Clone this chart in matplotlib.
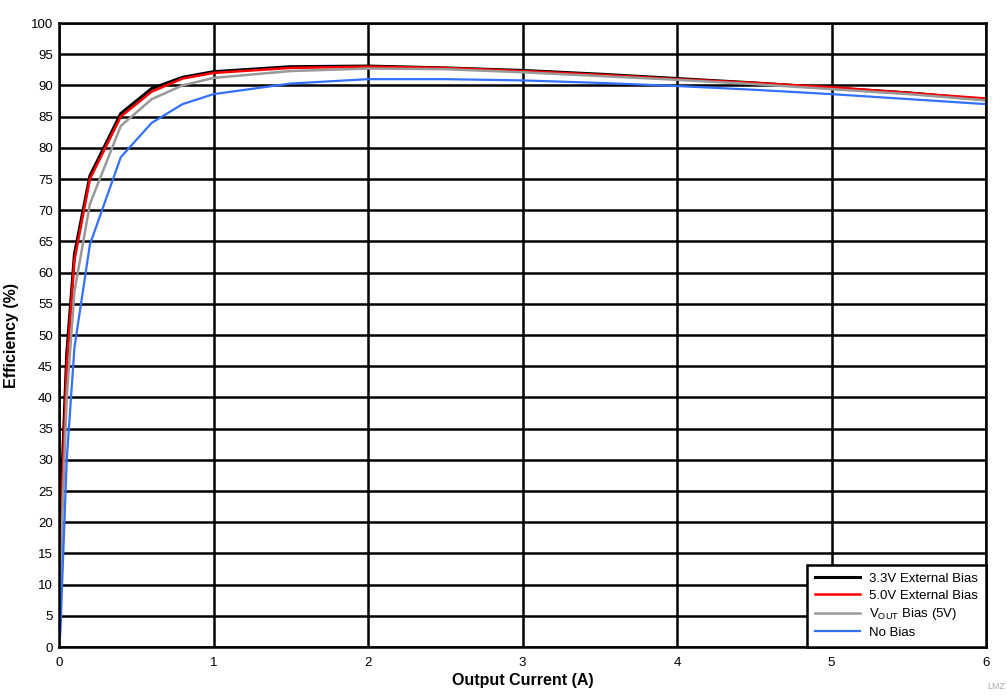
import numpy as np
import matplotlib.pyplot as plt

plt.rcParams['font.family'] = ['Liberation Sans', 'DejaVu Sans']

current = [0.005, 0.01, 0.02, 0.05, 0.1, 0.2, 0.4, 0.6, 0.8, 1.0, 1.5, 2.0, 2.5, 3.0, 3.5, 4.0, 4.5, 5.0, 5.5, 6.0]
eff_33v = [5, 12, 28, 47, 63, 75.5, 85.5, 89.5, 91.3, 92.2, 93.0, 93.1, 92.8, 92.4, 91.8, 91.1, 90.4, 89.6, 88.8, 87.7]
eff_50v = [4, 10, 25, 45, 62, 75.0, 85.0, 89.0, 91.1, 92.0, 92.8, 93.0, 92.8, 92.3, 91.7, 91.0, 90.4, 89.7, 88.8, 87.9]
eff_vout = [3, 8, 20, 40, 57, 71.0, 83.5, 87.8, 90.0, 91.2, 92.3, 92.7, 92.6, 92.1, 91.5, 90.9, 90.2, 89.4, 88.6, 87.6]
eff_nobias = [1, 3, 10, 30, 48, 64.5, 78.5, 84.0, 87.0, 88.6, 90.3, 91.0, 91.0, 90.8, 90.4, 89.9, 89.3, 88.6, 87.8, 87.0]

fig = plt.figure(figsize=(10.07, 6.99), dpi=100)
ax = fig.add_axes([59 / 1007, 1 - 647 / 699, (986 - 59) / 1007, (647 - 23) / 699])

ax.plot(current, eff_33v, color='black', lw=2.2, label='3.3V External Bias')
ax.plot(current, eff_50v, color='#ff0000', lw=1.8, label='5.0V External Bias')
ax.plot(current, eff_vout, color='#999999', lw=1.8, label='V$_\\mathregular{OUT}$ Bias (5V)')
ax.plot(current, eff_nobias, color='#3370ff', lw=1.6, label='No Bias')

ax.set_xlim(0, 6)
ax.set_ylim(0, 100)
ax.set_xticks(np.arange(0, 7, 1))
ax.set_yticks(np.arange(0, 101, 5))
ax.grid(True, color='black', lw=1.8)
ax.set_axisbelow(True)
for s in ax.spines.values():
    s.set_linewidth(1.8)
ax.tick_params(length=0, labelsize=9.5)
ax.tick_params(axis='y', pad=4.5)
ax.tick_params(axis='x', pad=7)

ax.set_xlabel('Output Current (A)', fontsize=11.5, fontweight='bold', labelpad=3)
ax.set_ylabel('Efficiency (%)', fontsize=11.5, fontweight='bold', labelpad=8)

leg = ax.legend(loc='lower right', fontsize=9.5, fancybox=False, framealpha=1,
                edgecolor='black', borderaxespad=0, handlelength=3.4,
                handletextpad=0.7, labelspacing=0.35, borderpad=0.6)
leg.get_frame().set_linewidth(1.8)

fig.text(0.998, 0.012, 'LMZ', fontsize=6.5, color='#aaaaaa', ha='right', va='bottom')

fig.savefig('out.png', dpi=100)
